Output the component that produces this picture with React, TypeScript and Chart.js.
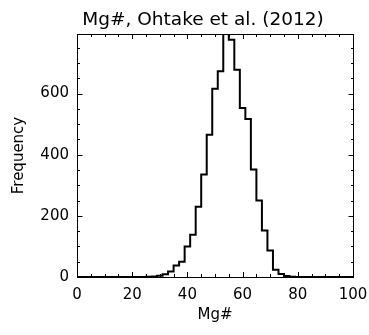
import React, { useEffect, useRef } from 'react';
import { Chart, registerables } from 'chart.js';

Chart.register(...registerables);

// Histogram bin centres (Mg#) and counts
const binCenters = [
  0, 2, 4, 6, 8, 10, 12, 14, 16, 18, 20, 22, 24, 26, 28, 30, 32, 34, 36, 38,
  40, 42, 44, 46, 48, 50, 52, 54, 56, 58, 60, 62, 64, 66, 68, 70, 72, 74, 76, 78,
  80, 82, 84, 86, 88, 90, 92, 94, 96, 98, 100,
];
const frequency = [
  0, 0, 0, 0, 0, 0, 0, 0, 0, 0, 0, 0, 0, 1, 2, 4, 9, 18, 38, 50,
  100, 138, 230, 335, 465, 616, 673, 795, 776, 678, 553, 517, 352, 250, 152, 87, 24, 10, 3, 1,
  0, 0, 0, 0, 0, 0, 0, 0, 0, 0, 0,
];

const xTickLabels = [0, 20, 40, 60, 80, 100];
const yTickLabels = [0, 200, 400, 600];
const xMinorStep = 5;
const yMinorStep = 50;
const xRange = [0, 100];
const yRange = [0, 795];

const chartTitle = 'Mg#, Ohtake et al. (2012)';
const xTitle = 'Mg#';
const yTitle = 'Frequency';

const FONT = "'DejaVu Sans', 'Open Sans', sans-serif";

const framePlugin = {
  id: 'frameTicks',
  afterDraw(chart: any) {
    const { ctx, chartArea, scales } = chart;
    const { left, right, top, bottom } = chartArea;
    const xs = scales.x;
    const ys = scales.y;
    ctx.save();
    ctx.strokeStyle = '#000';
    ctx.lineWidth = 1;
    // frame
    ctx.beginPath();
    ctx.moveTo(left + 0.5, top + 0.5);
    ctx.lineTo(right + 0.5, top + 0.5);
    ctx.lineTo(right + 0.5, bottom + 0.5);
    ctx.lineTo(left + 0.5, bottom + 0.5);
    ctx.closePath();
    ctx.stroke();
    // x ticks (bottom and top, inward)
    ctx.beginPath();
    for (let v = xRange[0]; v <= xRange[1]; v += xMinorStep) {
      const px = Math.round(xs.getPixelForValue(v)) + 0.5;
      const len = xTickLabels.includes(v) ? 5 : 3;
      ctx.moveTo(px, bottom);
      ctx.lineTo(px, bottom - len);
      ctx.moveTo(px, top);
      ctx.lineTo(px, top + len);
    }
    // y ticks (left and right, inward)
    for (let v = yRange[0]; v <= yRange[1]; v += yMinorStep) {
      const py = Math.round(ys.getPixelForValue(v)) + 0.5;
      const len = yTickLabels.includes(v) ? 5.5 : 3;
      ctx.moveTo(left, py);
      ctx.lineTo(left + len, py);
      ctx.moveTo(right + 1, py);
      ctx.lineTo(right + 1 - len, py);
    }
    ctx.stroke();
    // title
    ctx.fillStyle = '#000';
    ctx.font = `18.5px ${FONT}`;
    ctx.textAlign = 'center';
    ctx.textBaseline = 'alphabetic';
    ctx.fillText(chartTitle, 203, 25);
    ctx.restore();
  },
};

export default function App() {
  const canvasRef = useRef<HTMLCanvasElement | null>(null);

  useEffect(() => {
    const canvas = canvasRef.current;
    if (!canvas) return;
    const chart = new Chart(canvas, {
      type: 'line',
      data: {
        datasets: [
          {
            data: binCenters.map((x, i) => ({ x, y: frequency[i] })),
            stepped: 'middle',
            borderColor: '#000',
            borderWidth: 2,
            pointRadius: 0,
            fill: false,
          },
        ],
      },
      options: {
        animation: false,
        responsive: false,
        devicePixelRatio: 1,
        layout: { padding: { top: 34, right: 16, left: 0, bottom: 0 } },
        plugins: {
          legend: { display: false },
          tooltip: { enabled: false },
          title: { display: false },
        },
        scales: {
          x: {
            type: 'linear',
            min: xRange[0],
            max: xRange[1],
            afterBuildTicks: (s: any) => {
              s.ticks = xTickLabels.map((v) => ({ value: v }));
            },
            afterFit: (s: any) => {
              s.height = 58;
              s.paddingLeft = 0;
              s.paddingRight = 0;
            },
            ticks: {
              color: '#000',
              font: { family: FONT, size: 15 },
              padding: 9,
              maxRotation: 0,
              autoSkip: false,
            },
            grid: { display: false, drawTicks: false },
            border: { display: false },
            title: {
              display: true,
              text: xTitle,
              color: '#000',
              font: { family: FONT, size: 15 },
              padding: { top: 0, bottom: 11 },
            },
          },
          y: {
            type: 'linear',
            min: yRange[0],
            max: yRange[1],
            afterBuildTicks: (s: any) => {
              s.ticks = yTickLabels.map((v) => ({ value: v }));
            },
            afterFit: (s: any) => {
              s.width = 77;
              s.paddingTop = 0;
              s.paddingBottom = 0;
            },
            ticks: {
              color: '#000',
              font: { family: FONT, size: 15 },
              padding: 8,
              autoSkip: false,
            },
            grid: { display: false, drawTicks: false },
            border: { display: false },
            title: {
              display: true,
              text: yTitle,
              color: '#000',
              font: { family: FONT, size: 15 },
              padding: { top: 10, bottom: 0 },
            },
          },
        },
      },
      plugins: [framePlugin],
    });
    return () => chart.destroy();
  }, []);

  return (
    <div style={{ position: 'absolute', left: 0, top: 0, width: 369, height: 335, background: '#fff' }}>
      <canvas ref={canvasRef} width={369} height={335} style={{ display: 'block' }} />
    </div>
  );
}
